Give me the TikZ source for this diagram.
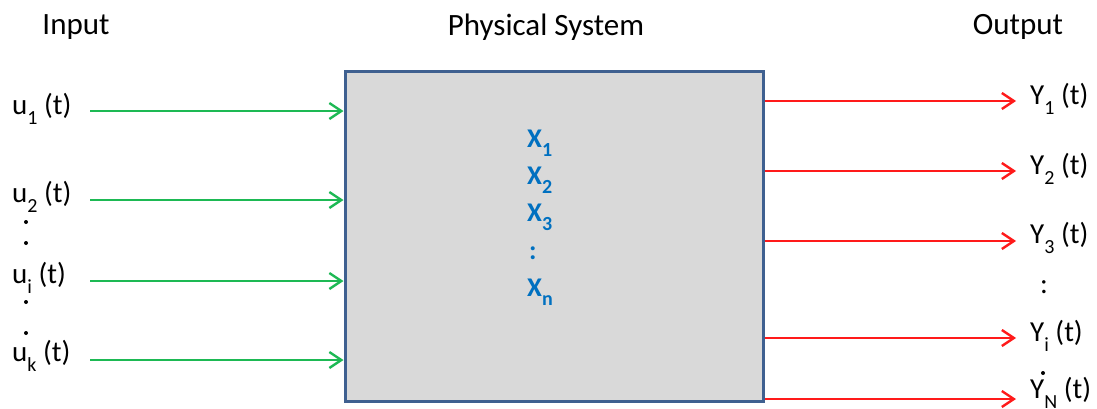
\documentclass[tikz,border=0pt]{standalone}
\usepackage{fontspec}
\setmainfont{Carlito}
\usetikzlibrary{arrows.meta}
\definecolor{boxedge}{HTML}{3F6090}
\definecolor{boxfill}{HTML}{D9D9D9}
\definecolor{ingreen}{HTML}{1DB954}
\definecolor{outred}{HTML}{FF1A1A}
\definecolor{stateblue}{HTML}{0070C0}
\newcommand{\lowsub}[1]{\raisebox{-0.32em}{\fontsize{20}{20}\selectfont #1}}
\tikzset{
  lbl/.style={font=\fontsize{29}{32}\selectfont, inner sep=0pt},
  hdr/.style={font=\fontsize{31}{34}\selectfont, inner sep=0pt},
  st/.style={font=\fontsize{27}{30}\selectfont\bfseries, text=stateblue, inner sep=0pt, anchor=west},
  inarrow/.style={draw=ingreen, line width=2.4pt, -{Straight Barb[length=12pt,width=16pt,line width=2.4pt]}},
  outarrow/.style={draw=outred, line width=2.4pt, -{Straight Barb[length=12pt,width=16pt,line width=2.4pt]}},
  dotnode/.style={circle, fill=black, inner sep=0pt, minimum size=4pt},
}
\begin{document}
\begin{tikzpicture}[x=1pt,y=-1pt]
\useasboundingbox (0,0) rectangle (1097,408);

% headings
\node[hdr] (hin) at (76,27) {Input};
\node[hdr] (hsys) at (546,27) {Physical System};
\node[hdr] (hout) at (1018,27) {Output};

% the system block
\node[draw=boxedge, fill=boxfill, line width=3pt, minimum width=418pt, minimum height=330pt, inner sep=0pt] (sys) at (554,236) {};

% state variables
\node[st] (x1) at (527,143) {X\lowsub{1}};
\node[st] (x2) at (527,180) {X\lowsub{2}};
\node[st] (x3) at (527,217) {X\lowsub{3}};
\node[st] (xc) at (529,253) {:};
\node[st] (xn) at (527,292) {X\lowsub{n}};

% inputs
\node[lbl, anchor=west] (u1) at (12,109) {u\lowsub{1} (t)};
\node[lbl, anchor=west] (u2) at (12,197) {u\lowsub{2} (t)};
\node[lbl, anchor=west] (ui) at (12,278) {u\lowsub{i} (t)};
\node[lbl, anchor=west] (uk) at (12,356) {u\lowsub{k} (t)};
\node[dotnode] (ud1) at (26,222) {};
\node[dotnode] (ud2) at (26,243) {};
\node[dotnode] (ud3) at (26,302) {};
\node[dotnode] (ud4) at (26,333) {};

\coordinate (a1) at (90,111);
\coordinate (a2) at (90,200);
\coordinate (a3) at (90,281);
\coordinate (a4) at (90,360);
\draw[inarrow] (a1) -- (sys.west |- a1);
\draw[inarrow] (a2) -- (sys.west |- a2);
\draw[inarrow] (a3) -- (sys.west |- a3);
\draw[inarrow] (a4) -- (sys.west |- a4);

% outputs
\coordinate (b1) at (1016,101);
\coordinate (b2) at (1016,171);
\coordinate (b3) at (1016,241);
\coordinate (b4) at (1016,338);
\coordinate (b5) at (1016,399);
\draw[outarrow] (sys.east |- b1) -- (b1);
\draw[outarrow] (sys.east |- b2) -- (b2);
\draw[outarrow] (sys.east |- b3) -- (b3);
\draw[outarrow] (sys.east |- b4) -- (b4);
\draw[outarrow] (sys.east |- b5) -- (b5);

\node[lbl, anchor=west] (y1) at (1030,99) {Y\lowsub{1} (t)};
\node[lbl, anchor=west] (y2) at (1030,169) {Y\lowsub{2} (t)};
\node[lbl, anchor=west] (y3) at (1030,238) {Y\lowsub{3} (t)};
\node[lbl] (yc) at (1044,287) {:};
\node[lbl, anchor=west] (yi) at (1030,336) {Y\lowsub{i} (t)};
\node[dotnode] (yd) at (1043,373) {};
\node[lbl, anchor=west] (yn) at (1030,393) {Y\lowsub{N} (t)};
\end{tikzpicture}
\end{document}
